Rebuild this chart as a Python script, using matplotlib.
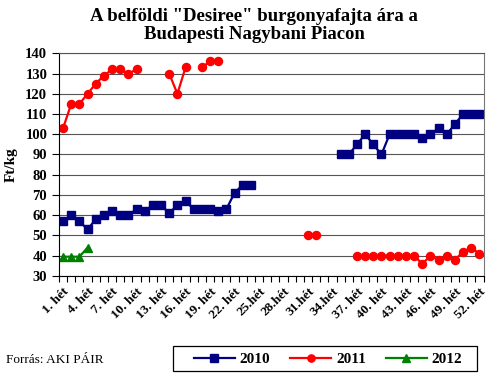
import numpy as np
import matplotlib.pyplot as plt
from matplotlib.patches import Rectangle

nan = np.nan

weeks = np.arange(1, 53)

# 2010 prices (Ft/kg), weekly
y2010 = [57, 60, 57, 53, 58, 60, 62, 60, 60, 63, 62, 65, 65, 61, 65, 67, 63, 63,
         63, 62, 63, 71, 75, 75, nan, nan, nan, nan, nan, nan, nan, nan, nan, nan,
         90, 90, 95, 100, 95, 90, 100, 100, 100, 100, 98, 100, 103, 100, 105, 110,
         110, 110]

# 2011 prices
y2011 = [103, 115, 115, 120, 125, 129, 132, 132, 130, 132, nan, nan, nan, 130, 120,
         133, nan, 133, 136, 136, nan, nan, nan, nan, nan, nan, nan, nan, nan, nan,
         50, 50, nan, nan, nan, nan, 40, 40, 40, 40, 40, 40, 40, 40, 36, 40, 38, 40,
         38, 42, 44, 41]

# 2012 prices
y2012 = [39.5, 39.5, 39.5, 44] + [nan] * 48

tick_weeks = list(range(1, 53, 3))
tick_labels = []
for w in tick_weeks:
    if 25 <= w <= 34:
        tick_labels.append("{}.hét".format(w))
    else:
        tick_labels.append("{}. hét".format(w))

plt.rcParams['font.family'] = ['Liberation Serif', 'DejaVu Serif']

fig = plt.figure(figsize=(5, 3.78), dpi=100)
ax = fig.add_axes([0.118, 0.270, 0.849, 0.589])

ax.plot(weeks, np.array(y2010, dtype=float), color='#000080', lw=1.6, marker='s',
        ms=5.8, label='2010')
ax.plot(weeks, np.array(y2011, dtype=float), color='#ff0000', lw=1.6, marker='o',
        ms=5.8, label='2011')
ax.plot(weeks, np.array(y2012, dtype=float), color='#008000', lw=1.6, marker='^',
        ms=6.2, label='2012')

ax.set_xlim(0.5, 52.5)
ax.set_ylim(30, 140)
ax.set_yticks(np.arange(30, 141, 10))
ax.yaxis.grid(True, color='#555555', lw=0.8)
ax.set_axisbelow(True)

ax.set_xticks(tick_weeks)
ax.set_xticklabels(tick_labels, rotation=45, ha='right', rotation_mode='anchor',
                   fontsize=9.5, fontweight='bold')
ax.set_xticks(np.arange(0.5, 53, 1), minor=True)
ax.tick_params(axis='x', which='major', length=0, pad=7)
ax.tick_params(axis='x', which='minor', length=4, width=0.8)
ax.tick_params(axis='y', length=5, width=0.8, labelsize=10.5)
for lab in ax.get_yticklabels():
    lab.set_fontweight('bold')

ax.spines['top'].set_color('#555555')
ax.spines['right'].set_color('#777777')
ax.spines['top'].set_linewidth(0.8)

ax.set_ylabel('Ft/kg', fontsize=11, fontweight='bold', labelpad=5)

fig.text(0.508, 0.98, 'A belföldi "Desiree" burgonyafajta ára a\nBudapesti Nagybani Piacon',
         ha='center', va='top', fontsize=13.5, fontweight='bold', linespacing=1.08)

fig.text(0.012, 0.048, 'Forrás: AKI PÁIR', ha='left', va='center', fontsize=9.5)

leg = ax.legend(loc='center', bbox_to_anchor=(0.656, 0.05),
                bbox_transform=fig.transFigure, ncol=3, frameon=False,
                handlelength=2.7, handletextpad=0.3, columnspacing=1.3,
                borderpad=0.3, markerscale=0.9,
                prop={'weight': 'bold', 'size': 11})

# legend box drawn separately (wider horizontal padding than borderpad allows)
fig.patches.append(Rectangle((0.346, 0.0185), 0.608, 0.067,
                             transform=fig.transFigure, fill=False,
                             edgecolor='black', lw=0.9))

fig.savefig('out.png', dpi=100)
